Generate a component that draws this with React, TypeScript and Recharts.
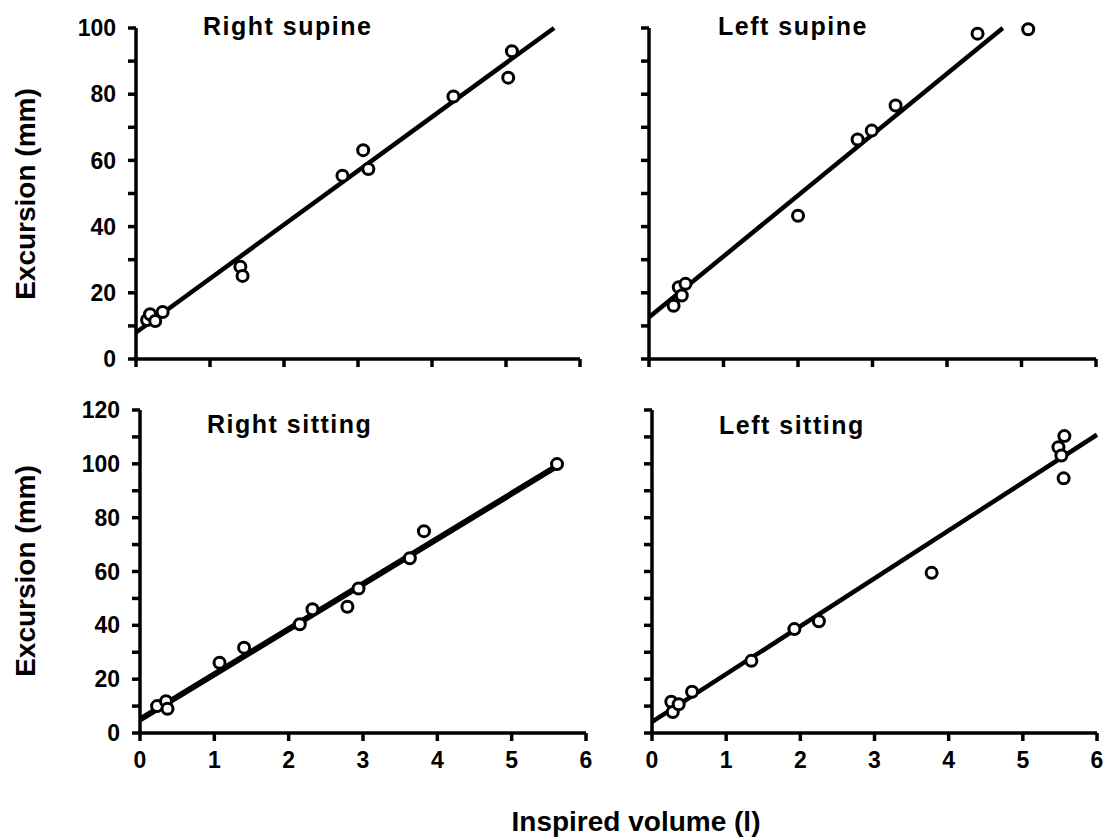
import { ScatterChart, Scatter, XAxis, YAxis } from 'recharts'

const FONT = '"Liberation Sans", Arial, sans-serif'

// axis ticks
const volumeTicks = [0, 1, 2, 3, 4, 5, 6]
const supineTicks = [0, 10, 20, 30, 40, 50, 60, 70, 80, 90, 100]
const sittingTicks = [0, 10, 20, 30, 40, 50, 60, 70, 80, 90, 100, 110, 120]

// Right supine
const rightSupineVolume = [0.15, 0.19, 0.26, 0.36, 1.41, 1.44, 2.79, 3.07, 3.14, 4.29, 5.03, 5.08]
const rightSupineExcursion = [11.8, 13.5, 11.5, 14.2, 27.9, 25.1, 55.4, 63.1, 57.4, 79.3, 85, 93]
const rightSupineFitVolume = [0, 5.65]
const rightSupineFitExcursion = [8, 100]

// Left supine
const leftSupineVolume = [0.33, 0.4, 0.44, 0.49, 2.0, 2.8, 2.99, 3.31, 4.41, 5.09]
const leftSupineExcursion = [16.1, 21.7, 19.2, 22.7, 43.3, 66.3, 69, 76.6, 98.3, 99.6]
const leftSupineFitVolume = [0, 4.75]
const leftSupineFitExcursion = [12.6, 100]

// Right sitting
const rightSittingVolume = [0.23, 0.35, 0.37, 1.07, 1.4, 2.15, 2.32, 2.79, 2.94, 3.63, 3.82, 5.61]
const rightSittingExcursion = [10, 11.8, 9, 26.1, 31.7, 40.4, 46, 46.9, 53.7, 64.9, 75, 99.9]
const rightSittingFitVolume = [0, 5.6]
const rightSittingFitExcursion = [5, 99]

// Left sitting
const leftSittingVolume = [0.26, 0.28, 0.36, 0.54, 1.34, 1.92, 2.25, 3.77, 5.48, 5.52, 5.56, 5.55]
const leftSittingExcursion = [11.6, 7.8, 10.7, 15.3, 26.8, 38.6, 41.5, 59.5, 106.2, 103.1, 110.3, 94.6]
const leftSittingFitVolume = [0, 6]
const leftSittingFitExcursion = [4.1, 110.8]

const toPoints = (xs: number[], ys: number[]) => xs.map((x, i) => ({ x, y: ys[i] }))

const OpenDot = (props: any) => (
  <circle cx={props.cx} cy={props.cy} r={5.5} fill="#fff" stroke="#000" strokeWidth={3} />
)

const NoTick = () => <g />

const XTick = (props: any) => (
  <text x={props.x} y={props.y} dy="0.71em" textAnchor="middle" fontSize={23} fontWeight="bold" fontFamily={FONT} fill="#000">
    {props.payload.value}
  </text>
)

// only every second tick on the excursion axis carries a number
const YTick = (props: any) => (
  <text x={props.x} y={props.y} dy="0.355em" textAnchor="end" fontSize={23} fontWeight="bold" fontFamily={FONT} fill="#000">
    {props.payload.value % 20 === 0 ? props.payload.value : ''}
  </text>
)

interface PanelProps {
  title: string
  points: { x: number; y: number }[]
  fit: { x: number; y: number }[]
  yTicks: number[]
  yMax: number
  showYLabels: boolean
  showXLabels: boolean
  left: number
  top: number
  width: number
  height: number
  yAxisWidth: number
  xAxisHeight: number
  marginTop: number
  marginRight: number
  fitWidth: number
  titleLeft: number
  titleTop: number
}

const axisStroke = { stroke: '#000', strokeWidth: 3.5 }

const textStyle: React.CSSProperties = {
  position: 'absolute',
  fontFamily: FONT,
  fontWeight: 'bold',
  fontSize: 28,
  lineHeight: '28px',
  whiteSpace: 'nowrap',
  color: '#000',
}

function Panel(p: PanelProps) {
  return (
    <div style={{ position: 'absolute', left: p.left, top: p.top, width: p.width, height: p.height }}>
      <ScatterChart
        width={p.width}
        height={p.height}
        margin={{ top: p.marginTop, right: p.marginRight, bottom: 0, left: 0 }}
      >
        <XAxis
          type="number"
          dataKey="x"
          domain={[0, 6]}
          ticks={volumeTicks}
          interval={0}
          height={p.xAxisHeight}
          axisLine={axisStroke}
          tickLine={axisStroke}
          tickSize={8}
          tickMargin={11}
          tick={p.showXLabels ? XTick : NoTick}
        />
        <YAxis
          type="number"
          dataKey="y"
          domain={[0, p.yMax]}
          ticks={p.yTicks}
          interval={0}
          width={p.yAxisWidth}
          axisLine={axisStroke}
          tickLine={axisStroke}
          tickSize={8}
          tickMargin={12}
          tick={p.showYLabels ? YTick : NoTick}
        />
        <Scatter
          data={p.fit}
          line={{ stroke: '#000', strokeWidth: p.fitWidth }}
          shape={() => <g />}
          isAnimationActive={false}
        />
        <Scatter data={p.points} shape={OpenDot} isAnimationActive={false} />
      </ScatterChart>
      <div
        style={{
          ...textStyle,
          fontSize: 25,
          lineHeight: '25px',
          letterSpacing: 1.5,
          left: p.titleLeft,
          top: p.titleTop,
        }}
      >
        {p.title}
      </div>
    </div>
  )
}

export default function App() {
  return (
    <div style={{ position: 'absolute', left: 0, top: 0, width: 1111, height: 840, background: '#fff' }}>
      <Panel
        title="Right supine"
        points={toPoints(rightSupineVolume, rightSupineExcursion)}
        fit={toPoints(rightSupineFitVolume, rightSupineFitExcursion)}
        yTicks={supineTicks}
        yMax={100}
        showYLabels
        showXLabels={false}
        left={0}
        top={0}
        width={600}
        height={400}
        yAxisWidth={136}
        xAxisHeight={41}
        marginTop={28}
        marginRight={20}
        fitWidth={4.5}
        titleLeft={203}
        titleTop={14}
      />
      <Panel
        title="Left supine"
        points={toPoints(leftSupineVolume, leftSupineExcursion)}
        fit={toPoints(leftSupineFitVolume, leftSupineFitExcursion)}
        yTicks={supineTicks}
        yMax={100}
        showYLabels={false}
        showXLabels={false}
        left={560}
        top={0}
        width={551}
        height={400}
        yAxisWidth={89}
        xAxisHeight={41}
        marginTop={28}
        marginRight={15}
        fitWidth={4.5}
        titleLeft={158}
        titleTop={14}
      />
      <Panel
        title="Right sitting"
        points={toPoints(rightSittingVolume, rightSittingExcursion)}
        fit={toPoints(rightSittingFitVolume, rightSittingFitExcursion)}
        yTicks={sittingTicks}
        yMax={120}
        showYLabels
        showXLabels
        left={0}
        top={380}
        width={600}
        height={420}
        yAxisWidth={140}
        xAxisHeight={67}
        marginTop={30}
        marginRight={14}
        fitWidth={6}
        titleLeft={207}
        titleTop={32}
      />
      <Panel
        title="Left sitting"
        points={toPoints(leftSittingVolume, leftSittingExcursion)}
        fit={toPoints(leftSittingFitVolume, leftSittingFitExcursion)}
        yTicks={sittingTicks}
        yMax={120}
        showYLabels={false}
        showXLabels
        left={560}
        top={380}
        width={551}
        height={420}
        yAxisWidth={92}
        xAxisHeight={67}
        marginTop={30}
        marginRight={14}
        fitWidth={4.5}
        titleLeft={159}
        titleTop={33}
      />
      <div style={{ ...textStyle, left: 26 - 150, top: 194 - 14, width: 300, textAlign: 'center', transform: 'rotate(-90deg)' }}>
        Excursion (mm)
      </div>
      <div style={{ ...textStyle, left: 26 - 150, top: 571 - 14, width: 300, textAlign: 'center', transform: 'rotate(-90deg)' }}>
        Excursion (mm)
      </div>
      <div style={{ ...textStyle, left: 636 - 200, top: 808, width: 400, textAlign: 'center' }}>
        Inspired volume (l)
      </div>
    </div>
  )
}
